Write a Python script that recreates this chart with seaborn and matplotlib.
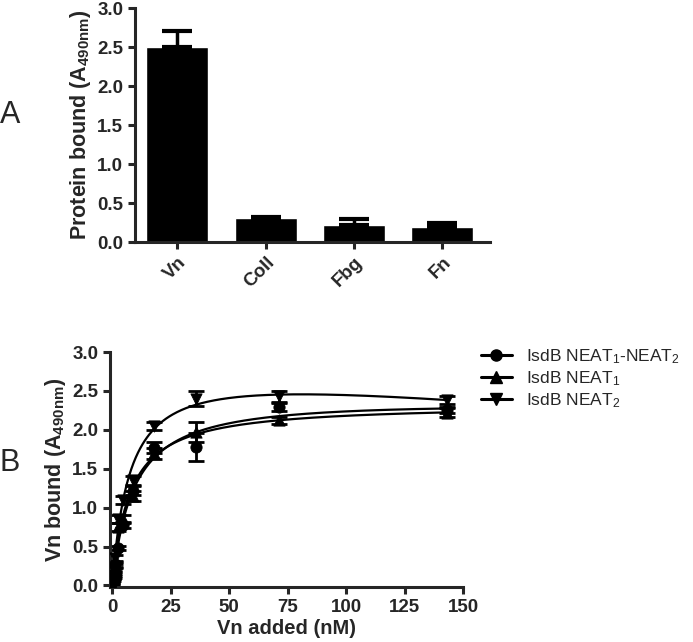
import numpy as np
import pandas as pd
import matplotlib
matplotlib.use('Agg')
import matplotlib.pyplot as plt
import seaborn as sns

# panel A: binding to ECM proteins
proteins = ['Vn', 'Coll', 'Fbg', 'Fn']
bound = [2.50, 0.31, 0.22, 0.19]
bound_err = [0.20, 0.01, 0.08, 0.06]

# panel B: Vn titration
vn_added = [0, 0.28, 0.56, 1.12, 2.23, 4.47, 8.94, 17.9, 35.75, 71.5, 143]
neat12 = [0.05, 0.10, 0.15, 0.27, 0.48, 0.78, 1.22, 1.77, 1.78, 2.29, 2.25]
neat12_err = [0.02, 0.02, 0.03, 0.03, 0.03, 0.04, 0.06, 0.07, 0.18, 0.05, 0.04]
neat1 = [0.00, 0.08, 0.12, 0.25, 0.75, 0.85, 1.15, 1.70, 1.97, 2.12, 2.22]
neat1_err = [0.02, 0.02, 0.03, 0.03, 0.05, 0.05, 0.07, 0.07, 0.13, 0.05, 0.06]
neat2 = [0.02, 0.10, 0.20, 0.35, 0.85, 1.10, 1.35, 2.05, 2.40, 2.43, 2.38]
neat2_err = [0.02, 0.02, 0.03, 0.04, 0.05, 0.05, 0.06, 0.05, 0.10, 0.07, 0.05]

series = [('IsdB NEAT$_1$-NEAT$_2$', neat12, neat12_err, 'o'),
          ('IsdB NEAT$_1$', neat1, neat1_err, '^'),
          ('IsdB NEAT$_2$', neat2, neat2_err, 'v')]

sns.set_style('ticks')
plt.rcParams['font.family'] = ['Liberation Sans', 'DejaVu Sans']
plt.rcParams['mathtext.default'] = 'regular'
plt.rcParams['axes.linewidth'] = 2.2
for a in ['x', 'y']:
    plt.rcParams[a + 'tick.major.width'] = 2.2
    plt.rcParams[a + 'tick.major.size'] = 5
    plt.rcParams[a + 'tick.direction'] = 'out'


def fit_total_binding(x, y):
    '''one site total binding: y = Bmax*x/(Kd+x) + NS*x, grid over Kd'''
    x = np.asarray(x, float)
    y = np.asarray(y, float)
    best = None
    for kd in np.linspace(0.5, 30, 600):
        A = np.column_stack([x / (kd + x), x])
        coef, *_ = np.linalg.lstsq(A, y, rcond=None)
        sse = ((y - A @ coef) ** 2).sum()
        if best is None or sse < best[0]:
            best = (sse, coef[0], coef[1], kd)
    return best[1:]


fig = plt.figure(figsize=(6.93, 6.42), dpi=100)
tick_kw = dict(fontsize=13.5, fontweight='bold')

# ---- panel A
ax1 = fig.add_axes([0.1948, 0.623, 0.5123, 0.3645])
df = pd.DataFrame({'protein': proteins, 'bound': bound})
sns.barplot(data=df, x='protein', y='bound', color='black', width=0.7,
            saturation=1, ax=ax1)
ax1.errorbar(range(len(proteins)), bound,
             yerr=[np.zeros(len(bound)), bound_err], fmt='none',
             ecolor='black', elinewidth=2.5, capsize=11, capthick=3)
ax1.set_xlim(-0.48, 3.54)
ax1.set_ylim(0, 3.0)
ax1.set_yticks(np.arange(0, 3.01, 0.5))
ax1.set_yticklabels([f'{v:.1f}' for v in np.arange(0, 3.01, 0.5)], **tick_kw)
ax1.set_xticks(range(len(proteins)))
ax1.set_xticklabels(proteins, rotation=45, ha='right', rotation_mode='anchor',
                    **tick_kw)
ax1.set_xlabel('')
ax1.set_ylabel('Protein bound (A$_{490nm}$)', fontsize=15.5,
               fontweight='bold', labelpad=3)
sns.despine(ax=ax1)

# ---- panel B
ax2 = fig.add_axes([0.1587, 0.0857, 0.5094, 0.366])
xs = np.linspace(0, 143, 300)
handles = []
for label, vals, err, mk in series:
    ax2.errorbar(vn_added, vals, yerr=err, fmt='none', ecolor='black',
                 elinewidth=2, capsize=6, capthick=2)
    bmax, ns, kd = fit_total_binding(vn_added, vals)
    sns.lineplot(x=xs, y=bmax * xs / (kd + xs) + ns * xs, color='black',
                 lw=1.6, ax=ax2, legend=False)
    sns.scatterplot(x=vn_added, y=vals, marker=mk, color='black', s=65,
                    edgecolor='black', ax=ax2, legend=False, zorder=3)
    hd, = ax2.plot([], [], color='black', lw=2.2, marker=mk, ms=8,
                   label=label)
    handles.append(hd)

ax2.set_xlim(-1, 150)
ax2.set_ylim(-0.02, 3.0)
ax2.set_xticks(np.arange(0, 151, 25))
ax2.set_xticklabels([str(v) for v in range(0, 151, 25)], **tick_kw)
ax2.set_yticks(np.arange(0, 3.01, 0.5))
ax2.set_yticklabels([f'{v:.1f}' for v in np.arange(0, 3.01, 0.5)], **tick_kw)
ax2.set_xlabel('Vn added (nM)', fontsize=14.5, fontweight='bold', labelpad=2)
ax2.set_ylabel('Vn bound (A$_{490nm}$)', fontsize=15.5, fontweight='bold',
               labelpad=3)
sns.despine(ax=ax2)

fig.legend(handles=handles, loc='upper left', bbox_to_anchor=(0.671, 0.484),
           frameon=False, fontsize=12.5, handlelength=1.8, handletextpad=0.8,
           labelspacing=0.2)

fig.text(0.0, 0.821, 'A', fontsize=22, va='center', ha='left')
fig.text(0.0, 0.279, 'B', fontsize=22, va='center', ha='left')

fig.savefig('out.png', dpi=100)
